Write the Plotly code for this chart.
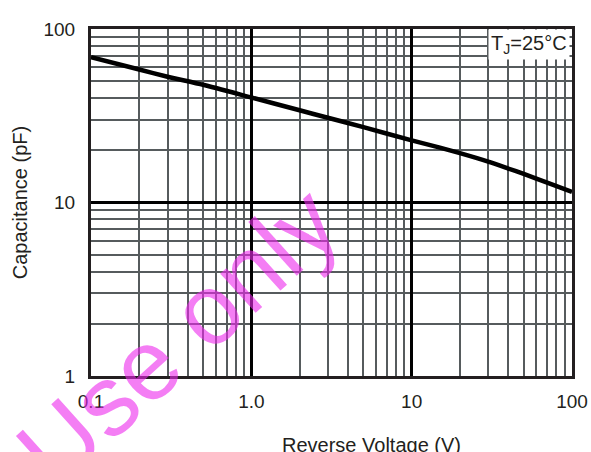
import plotly.graph_objects as go

# Data (Capacitance vs Reverse Voltage, TJ=25°C)
voltage = [0.1, 0.2, 0.3, 0.5, 1.0, 2.0, 3.0, 5.0, 10.0, 15.0, 20.0, 30.0, 40.0, 50.0, 70.0, 100.0]
capacitance = [68.8, 58.4, 53.1, 47.7, 40.3, 34.0, 30.8, 27.2, 22.8, 20.7, 19.25, 17.2, 15.7, 14.6, 13.0, 11.5]

x_tickvals = [0.1, 1, 10, 100]
x_ticktext = ["0.1", "1.0", "10", "100"]
y_tickvals = [1, 10, 100]
y_ticktext = ["1", "10", "100"]
x_minor = [k * 10.0 ** d for d in (-1, 0, 1) for k in range(2, 10)]
y_minor = [k * 10.0 ** d for d in (0, 1) for k in range(2, 10)]

FONT = "Liberation Sans, Arial, sans-serif"
TXT = "#231f20"
GRID = "#565b5d"

fig = go.Figure()
fig.add_trace(go.Scatter(x=voltage, y=capacitance, mode="lines",
                         line=dict(color="#000000", width=4.5, shape="spline", smoothing=0.6),
                         showlegend=False, hoverinfo="skip"))

axis_common = dict(
    type="log", showline=True, mirror=True, linecolor=TXT, linewidth=3,
    showgrid=True, gridcolor="#000000", gridwidth=3, zeroline=False,
    ticks="", automargin=False, tickfont=dict(family=FONT, size=19, color=TXT),
)

fig.update_xaxes(range=[-1, 2], tickmode="array", tickvals=x_tickvals, ticktext=x_ticktext,
                 ticklabelstandoff=6,
                 minor=dict(tickmode="array", tickvals=x_minor, showgrid=True,
                            gridcolor=GRID, gridwidth=2, ticks=""),
                 **axis_common)
fig.update_yaxes(range=[0, 2], tickmode="array", tickvals=y_tickvals, ticktext=y_ticktext,
                 ticklabelstandoff=9,
                 title=dict(text="Capacitance (pF)", font=dict(family=FONT, size=20, color=TXT),
                            standoff=11),
                 minor=dict(tickmode="array", tickvals=y_minor, showgrid=True,
                            gridcolor=GRID, gridwidth=2, ticks=""),
                 **axis_common)

fig.add_annotation(text="Reverse Voltage (V)", xref="paper", yref="paper",
                   x=0.583, y=-0.16, xanchor="center", yanchor="top", showarrow=False,
                   font=dict(family=FONT, size=20, color=TXT))

fig.add_annotation(text="T<sub>J</sub>=25°C", xref="paper", yref="paper",
                   x=1, y=1, xanchor="right", yanchor="top", showarrow=False,
                   xshift=-2, yshift=0,
                   bgcolor="white", borderpad=2,
                   font=dict(family=FONT, size=20, color=TXT))

fig.add_annotation(text="Use only", xref="paper", yref="paper",
                   x=0.18, y=0.115, xanchor="center", yanchor="middle", showarrow=False,
                   textangle=-42,
                   font=dict(family=FONT, size=100, color="rgba(236,40,236,0.6)"))

fig.update_layout(
    width=591, height=452,
    margin=dict(l=91, r=19, t=29, b=76),
    paper_bgcolor="white", plot_bgcolor="white",
    font=dict(family=FONT, color=TXT),
)

fig.write_html("out.html", config={"displayModeBar": False},
               post_script="document.body.style.margin='0';document.body.style.overflow='hidden';")
